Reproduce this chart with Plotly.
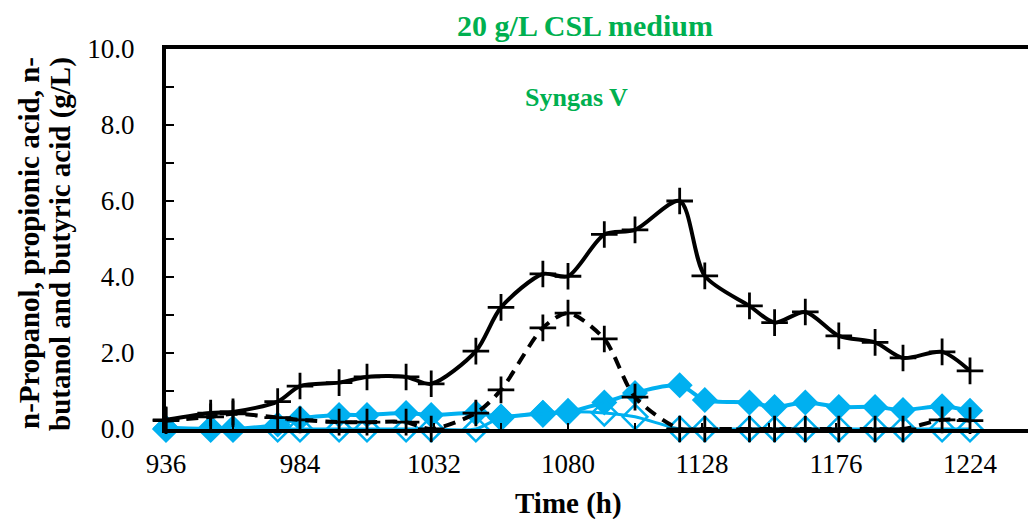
import plotly.graph_objects as go

# ---- data ----
time_h = [936, 952, 960, 976, 984, 998, 1008, 1022, 1031, 1047, 1056, 1071, 1080,
          1093, 1104, 1120, 1129, 1145, 1154, 1165, 1177, 1190, 1200, 1214, 1224]

solid_cross = [0.24, 0.42, 0.45, 0.72, 1.13, 1.22, 1.37, 1.37, 1.19, 2.05, 3.20, 4.08, 4.02,
               5.12, 5.24, 6.00, 4.03, 3.24, 2.80, 3.08, 2.45, 2.28, 1.87, 2.03, 1.53]

dashed_cross = [0.22, 0.32, 0.40, 0.30, 0.24, 0.18, 0.18, 0.18, 0.00, 0.42, 1.03, 2.66, 3.05,
                2.37, 0.84, 0.00, 0.00, 0.00, 0.00, 0.00, 0.00, 0.00, 0.00, 0.24, 0.22]

filled_diamond = [0.03, 0.00, 0.00, 0.12, 0.28, 0.37, 0.37, 0.42, 0.37, 0.42, 0.32, 0.42, 0.45,
                  0.70, 0.95, 1.15, 0.76, 0.70, 0.58, 0.70, 0.58, 0.58, 0.50, 0.60, 0.48]

open_diamond = [0.00, 0.00, 0.00, 0.00, 0.00, 0.00, 0.00, 0.00, 0.00, 0.00, 0.30, 0.40, 0.45,
                0.42, 0.32, 0.00, 0.00, 0.00, 0.00, 0.00, 0.00, 0.00, 0.00, 0.00, 0.00]

x_ticks = [936, 984, 1032, 1080, 1128, 1176, 1224]
y_ticks = [0, 2, 4, 6, 8, 10]
y_tick_text = ["0.0", "2.0", "4.0", "6.0", "8.0", "10.0"]

y_title_lines = ["n-Propanol, propionic acid, n-", "butanol and butyric acid (g/L)"]

BLUE = "#00B0F0"
GREEN = "#00B050"
FONT = "Liberation Serif, Times New Roman, serif"

L, T, W, H = 166, 49, 862, 380  # plot area in pixels


def px_x(p):
    return (p - L) / W


def px_y(p):
    return (T + H - p) / H


fig = go.Figure()

fig.add_trace(go.Scatter(
    x=time_h, y=filled_diamond, mode="lines+markers", name="filled",
    line=dict(color=BLUE, width=4, shape="spline", smoothing=0.8),
    marker=dict(symbol="diamond", size=20, color=BLUE),
    cliponaxis=False))

fig.add_trace(go.Scatter(
    x=time_h, y=open_diamond, mode="lines+markers", name="open",
    line=dict(color=BLUE, width=3, shape="spline", smoothing=0.8),
    marker=dict(symbol="diamond-open", size=19, color=BLUE, line=dict(width=2.5, color=BLUE)),
    cliponaxis=False))

fig.add_trace(go.Scatter(
    x=time_h, y=dashed_cross, mode="lines+markers", name="dashed",
    line=dict(color="black", width=4, dash="12px,8px", shape="spline", smoothing=0.8),
    marker=dict(symbol="cross-thin", size=19, color="black", line=dict(width=2.8, color="black")),
    cliponaxis=False))

fig.add_trace(go.Scatter(
    x=time_h, y=solid_cross, mode="lines+markers", name="solid",
    line=dict(color="black", width=4, shape="spline", smoothing=0.8),
    marker=dict(symbol="cross-thin", size=19, color="black", line=dict(width=2.8, color="black")),
    cliponaxis=False))

annotations = [
    dict(text="<b>Syngas V</b>", xref="paper", yref="paper",
         x=px_x(576), y=px_y(98), xanchor="center", yanchor="middle",
         showarrow=False, font=dict(family=FONT, size=26, color=GREEN)),
    dict(text="<b>Time (h)</b>", xref="paper", yref="paper",
         x=px_x(568), y=px_y(503), xanchor="center", yanchor="middle",
         showarrow=False, font=dict(family=FONT, size=29, color="black")),
]
for line_text, cx in zip(y_title_lines, [29, 60]):
    annotations.append(dict(
        text="<b>" + line_text + "</b>", xref="paper", yref="paper",
        x=px_x(cx), y=px_y(55), xanchor="center", yanchor="top", textangle=-90,
        showarrow=False, font=dict(family=FONT, size=29, color="black")))

fig.update_layout(
    width=1028, height=519,
    margin=dict(l=L, r=1028 - L - W, t=T, b=519 - T - H),
    paper_bgcolor="white", plot_bgcolor="white",
    showlegend=False,
    font=dict(family=FONT, color="black", size=27),
    title=dict(text="<b>20 g/L CSL medium</b>", x=585 / 1028, xanchor="center",
               y=1 - 25 / 519, yanchor="middle",
               font=dict(family=FONT, size=30, color=GREEN)),
    xaxis=dict(range=[936, 936 + W / 2.7917], showgrid=False, zeroline=False,
               showline=True, linecolor="black", linewidth=4, mirror=True,
               tickmode="array", tickvals=x_ticks, ticks="inside", ticklen=6,
               tickwidth=1.5, tickcolor="black", ticklabelstandoff=8,
               tickfont=dict(family=FONT, size=27),
               minor=dict(dtick=24, tick0=936, ticks="inside", ticklen=6,
                          tickwidth=1.5, tickcolor="black")),
    yaxis=dict(range=[0, 10], showgrid=False, zeroline=False,
               showline=True, linecolor="black", linewidth=4,
               tickmode="array", tickvals=y_ticks, ticktext=y_tick_text,
               ticks="inside", ticklen=8, tickwidth=1.5, tickcolor="black",
               ticklabelstandoff=22, tickfont=dict(family=FONT, size=27),
               minor=dict(dtick=1, tick0=0, ticks="inside", ticklen=8,
                          tickwidth=1.5, tickcolor="black")),
    annotations=annotations,
)

fig.write_html("out.html")
